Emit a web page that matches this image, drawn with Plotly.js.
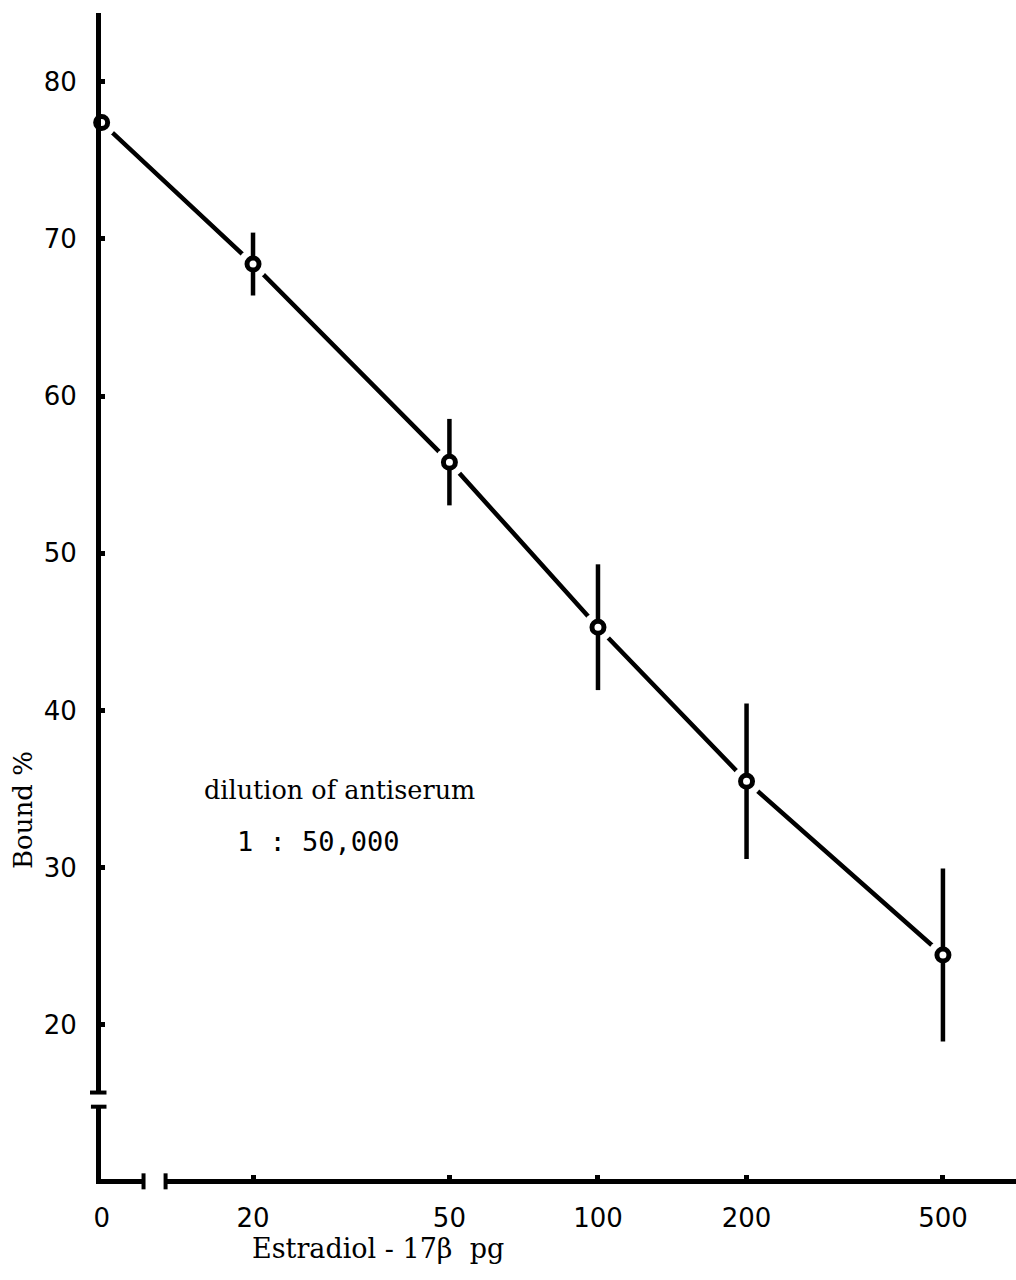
<!DOCTYPE html>
<html>
<head>
<meta charset="utf-8">
<script src="https://cdn.plot.ly/plotly-3.0.1.min.js"></script>
<style>html,body{margin:0;padding:0;background:#fff;}#chart{width:1016px;height:1280px;}</style>
</head>
<body>
<div id="chart"></div>
<script>
// ---- data ----
const doseLabels = ['0', '20', '50', '100', '200', '500'];      // Estradiol-17β, pg
const dosePositions = [9.87, 20, 50, 100, 200, 500];            // "0" drawn at the broken log-axis origin
const boundPct = [77.4, 68.4, 55.8, 45.3, 35.5, 24.45];         // Bound %
const boundErr = [0, 2.0, 2.75, 4.0, 4.95, 5.5];                // ± error
const yTickVals = [20, 30, 40, 50, 60, 70, 80];
const yBreak = [14.8, 15.7];
const xBreak = [12.0, 13.3];

const X_RANGE = [0.993, 2.847];
const Y_RANGE = [10.2, 84.37];
const xFrac = v => (Math.log10(v) - X_RANGE[0]) / (X_RANGE[1] - X_RANGE[0]);

const traces = [
  { x: dosePositions, y: boundPct, mode: 'lines', type: 'scatter',
    line: { color: '#000', width: 4.5 }, hoverinfo: 'skip', cliponaxis: false },
  { x: dosePositions, y: boundPct, mode: 'markers', type: 'scatter',
    marker: { color: '#fff', size: 30, line: { width: 0 } }, hoverinfo: 'skip', cliponaxis: false },
  { x: dosePositions, y: boundPct, mode: 'markers', type: 'scatter',
    marker: { color: '#fff', size: 12, symbol: 'circle', line: { color: '#000', width: 5 } },
    error_y: { type: 'data', array: boundErr, visible: true, color: '#000', thickness: 4.5, width: 0 },
    cliponaxis: false }
];

const capY = 8 / 1166;
const shapes = [
  // y-axis break
  { type: 'rect', xref: 'paper', yref: 'y', x0: -0.03, x1: 0.03, y0: yBreak[0], y1: yBreak[1],
    fillcolor: '#fff', line: { width: 0 }, layer: 'above' },
  { type: 'line', xref: 'paper', yref: 'y', x0: -0.012, x1: 0.006, y0: yBreak[1], y1: yBreak[1],
    line: { color: '#000', width: 4 }, layer: 'above' },
  { type: 'line', xref: 'paper', yref: 'y', x0: -0.011, x1: 0.006, y0: yBreak[0], y1: yBreak[0],
    line: { color: '#000', width: 4 }, layer: 'above' },
  // x-axis break
  { type: 'rect', xref: 'paper', yref: 'paper', x0: xFrac(xBreak[0]), x1: xFrac(xBreak[1]), y0: -0.02, y1: 0.02,
    fillcolor: '#fff', line: { width: 0 }, layer: 'above' },
  { type: 'line', xref: 'paper', yref: 'paper', x0: xFrac(xBreak[0]), x1: xFrac(xBreak[0]), y0: -capY - 0.002, y1: capY - 0.002,
    line: { color: '#000', width: 4 }, layer: 'above' },
  { type: 'line', xref: 'paper', yref: 'paper', x0: xFrac(xBreak[1]), x1: xFrac(xBreak[1]), y0: -capY - 0.002, y1: capY - 0.002,
    line: { color: '#000', width: 4 }, layer: 'above' }
];

const serif = 'DejaVu Serif, serif';
const layout = {
  width: 1016, height: 1280,
  margin: { l: 101, r: 0, t: 13, b: 101, pad: 0 },
  paper_bgcolor: '#fff', plot_bgcolor: '#fff',
  showlegend: false,
  font: { family: 'DejaVu Sans, sans-serif', color: '#000' },
  xaxis: {
    type: 'log', range: X_RANGE,
    tickvals: dosePositions, ticktext: doseLabels,
    ticks: 'inside', ticklen: 4, tickwidth: 5, tickcolor: '#000',
    showline: true, linecolor: '#000', linewidth: 4.5,
    showgrid: false, zeroline: false,
    tickfont: { family: 'DejaVu Sans, sans-serif', size: 26, color: '#000' },
    ticklabelstandoff: 12
  },
  yaxis: {
    range: Y_RANGE, tickvals: yTickVals,
    ticks: 'inside', ticklen: 4, tickwidth: 5, tickcolor: '#000',
    showline: true, linecolor: '#000', linewidth: 5,
    showgrid: false, zeroline: false,
    tickfont: { family: 'DejaVu Sans, sans-serif', size: 26, color: '#000' },
    ticklabelstandoff: 14
  },
  shapes: shapes,
  annotations: [
    { text: 'dilution of antiserum', xref: 'paper', yref: 'y', x: 0.1104, y: 34.94,
      xanchor: 'left', yanchor: 'middle', showarrow: false,
      font: { family: serif, size: 25.5, color: '#000' } },
    { text: '1 : 50,000', xref: 'paper', yref: 'y', x: 0.146, y: 31.7,
      xanchor: 'left', yanchor: 'middle', showarrow: false,
      font: { family: 'DejaVu Sans Mono, monospace', size: 27, color: '#000' } },
    { text: 'Bound %', xref: 'paper', yref: 'paper', x: -0.0852, y: 0.3165, textangle: -90,
      xanchor: 'center', yanchor: 'middle', showarrow: false,
      font: { family: serif, size: 26, color: '#000' } },
    { text: 'Estradiol - 17β  pg', xref: 'paper', yref: 'paper', x: 0.3027, y: -0.060,
      xanchor: 'center', yanchor: 'middle', showarrow: false,
      font: { family: serif, size: 27, color: '#000' } }
  ]
};

Plotly.newPlot('chart', traces, layout, { displayModeBar: false, staticPlot: true });
</script>
</body>
</html>
